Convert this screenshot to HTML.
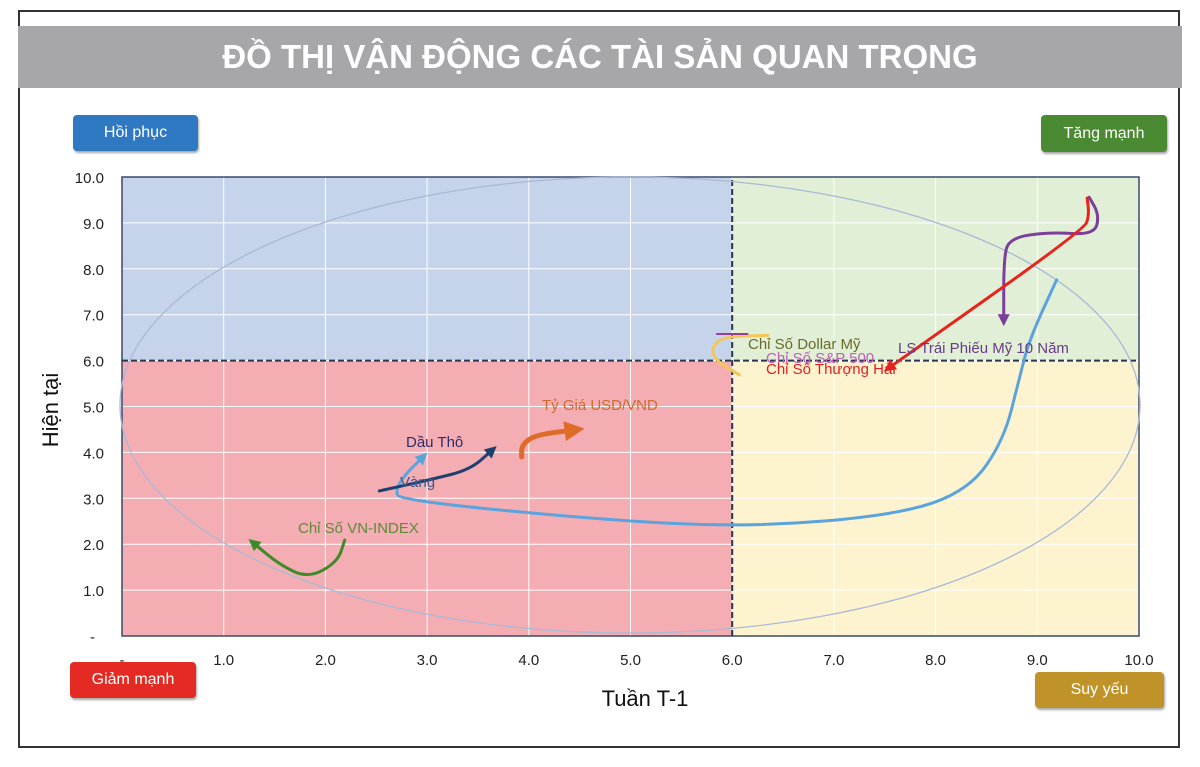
<!DOCTYPE html>
<html><head><meta charset="utf-8"><style>
body{margin:0;background:#fff;width:1200px;height:767px;overflow:hidden;font-family:"Liberation Sans",sans-serif}
.frame{position:absolute;left:18px;top:10px;width:1162px;height:738px;border:2px solid #333;box-sizing:border-box}
.title{position:absolute;left:18px;top:26px;width:1164px;height:62px;background:#a7a7a9;color:#fff;font-weight:bold;font-size:33px;text-align:center;line-height:62px;letter-spacing:0px}
.btn{position:absolute;color:#fff;font-size:16px;text-align:center;border-radius:4px;box-shadow:1px 2px 2px rgba(0,0,0,.35)}
</style></head><body>
<div class="frame"></div>
<div class="title">ĐỒ THỊ VẬN ĐỘNG CÁC TÀI SẢN QUAN TRỌNG</div>
<div class="btn" style="left:73px;top:115px;width:125px;height:36px;line-height:36px;background:#2f79c2">Hồi phục</div>
<div class="btn" style="left:1041px;top:115px;width:126px;height:37px;line-height:37px;background:#4a8a33">Tăng mạnh</div>
<div class="btn" style="left:70px;top:662px;width:126px;height:36px;line-height:36px;background:#e32b24">Giảm mạnh</div>
<div class="btn" style="left:1035px;top:672px;width:129px;height:36px;line-height:36px;background:#bf9328">Suy yếu</div>
<svg id="chart" width="1200" height="767" style="position:absolute;left:0;top:0"></svg>
<script>
const xTicks=[0,1,2,3,4,5,6,7,8,9,10];
const yTicks=[0,1,2,3,4,5,6,7,8,9,10];
const vnX=[2.19,2.12,1.83,1.55,1.29], vnY=[2.09,1.61,1.26,1.55,2.03];
const goldX=[9.19,8.92,8.82,8.67,8.33,7.64,6.17,4.70,2.73,2.69,2.78,2.96], goldY=[7.76,6.45,5.58,4.27,3.18,2.64,2.37,2.53,2.96,3.18,3.51,3.90];
const oilX=[2.53,3.02,3.42,3.64], oilY=[3.16,3.40,3.62,4.05];
const fxX=[3.93,3.93,4.06,4.45], fxY=[3.90,4.16,4.38,4.49];
const dxyX=[6.07,5.85,5.79,5.90,6.35], dxyY=[5.69,5.98,6.25,6.52,6.55];
const spX=[5.85,6.15], spY=[6.58,6.58];
const bondX=[9.51,9.61,9.56,9.12,8.72,8.67,8.67], bondY=[9.56,9.17,8.74,8.80,8.67,8.19,6.88];
const shX=[9.49,9.51,9.46,7.54], shY=[9.54,9.17,8.85,5.84];
const X0=122,X1=1139,Y0=636,Y1=177;
const sx=v=>X0+v*(X1-X0)/10, sy=v=>Y0-v*(Y0-Y1)/10;
const svg=document.getElementById('chart');
const NS='http://www.w3.org/2000/svg';
function mk(t,a,p){const e=document.createElementNS(NS,t);for(const k in a)e.setAttribute(k,a[k]);(p||svg).appendChild(e);return e;}
const defs=mk('defs',{});
const cols={vn:'#3f8a2c',gold:'#5ba3dd',oil:'#1f3f6f',fx:'#dd6c28',dxy:'#f2c75a',sp:'#9a3d9a',bond:'#7a3f9a',sh:'#e8231c'};
for(const k in cols){const m=mk('marker',{id:'ar-'+k,viewBox:'0 0 10 10',refX:5,refY:5,markerWidth:4,markerHeight:4,orient:'auto'},defs);mk('path',{d:'M0,0L10,5L0,10z',fill:cols[k]},m);}
let q;
q=mk('rect',{x:sx(0),y:sy(10),width:sx(6)-sx(0),height:sy(6)-sy(10),fill:'#c5d4ea'});
q=mk('rect',{x:sx(6),y:sy(10),width:sx(10)-sx(6),height:sy(6)-sy(10),fill:'#e0efd6'});
q=mk('rect',{x:sx(0),y:sy(6),width:sx(6)-sx(0),height:sy(0)-sy(6),fill:'#f4adb3'});
q=mk('rect',{x:sx(6),y:sy(6),width:sx(10)-sx(6),height:sy(0)-sy(6),fill:'#fdf4cf'});
xTicks.forEach(v=>{const l=mk('line',{x1:sx(v),x2:sx(v),y1:sy(0),y2:sy(10),stroke:'#fff','stroke-width':1});});
yTicks.forEach(v=>{const l=mk('line',{x1:sx(0),x2:sx(10),y1:sy(v),y2:sy(v),stroke:'#fff','stroke-width':1});});
let b=mk('rect',{x:sx(0),y:sy(10),width:sx(10)-sx(0),height:sy(0)-sy(10),fill:'none',stroke:'#3a4a6a','stroke-width':1.5});
let dl=mk('line',{x1:sx(6),x2:sx(6),y1:sy(0),y2:sy(10),stroke:'#2a3550','stroke-width':2,'stroke-dasharray':'6,3'});
dl=mk('line',{x1:sx(0),x2:sx(10),y1:sy(6),y2:sy(6),stroke:'#2a3550','stroke-width':2,'stroke-dasharray':'6,3'});
let el=mk('ellipse',{cx:630,cy:405,rx:510,ry:228,fill:'none',stroke:'#a9b9d6','stroke-width':1.3});
xTicks.forEach(v=>{const t=mk('text',{x:sx(v),y:665,'text-anchor':'middle','font-size':15,fill:'#222'});t.textContent=v===0?'-':v.toFixed(1);});
yTicks.forEach(v=>{const t=mk('text',{x:v===0?95:104,y:sy(v)+6,'text-anchor':'end','font-size':15,fill:'#222'});t.textContent=v===0?'-':v.toFixed(1);});
let at=mk('text',{x:645,y:706,'text-anchor':'middle','font-size':22,fill:'#111'});at.textContent='Tuần T-1';
at=mk('text',{x:58,y:410,'text-anchor':'middle','font-size':22,fill:'#111',transform:'rotate(-90 58 410)'});at.textContent='Hiện tại';
function path(xs,ys){let d='M'+sx(xs[0])+','+sy(ys[0]);for(let i=1;i<xs.length;i++){const px=sx(xs[i-1]),py=sy(ys[i-1]),cx=sx(xs[i]),cy=sy(ys[i]);d+=' Q'+px+','+py+' '+((px+cx)/2)+','+((py+cy)/2);}d+=' L'+sx(xs[xs.length-1])+','+sy(ys[ys.length-1]);return d;}
function series(xs,ys,k,w,name,arrow){const a={d:path(xs,ys),fill:'none',stroke:cols[k],'stroke-width':w,'stroke-linecap':'round'};if(arrow)a['marker-end']='url(#ar-'+k+')';const p=mk('path',a);}
series(vnX,vnY,'vn',3,'vnindex-series',true);
series(goldX,goldY,'gold',3,'gold-series',true);
series(oilX,oilY,'oil',3,'oil-series',true);
series(fxX,fxY,'fx',5,'usdvnd-series',true);
series(dxyX,dxyY,'dxy',3,'dollar-index-series',false);
series(spX,spY,'sp',2,'sp500-series',false);
series(bondX,bondY,'bond',3,'us10y-series',true);
series(shX,shY,'sh',3,'shanghai-series',true);
function lab(x,y,t,c,n){const e=mk('text',{x:x,y:y,'font-size':15,fill:c});e.textContent=t;}
lab(298,533,'Chỉ Số VN-INDEX','#5d8a3a','vnindex-label');
lab(400,487,'Vàng','#3c5a8a','gold-label');
lab(406,447,'Dầu Thô','#2d2d6a','oil-label');
lab(542,410,'Tỷ Giá USD/VND','#d06a30','usdvnd-label');
lab(748,349,'Chỉ Số Dollar Mỹ','#6b6a2a','dollar-index-label');
lab(766,363,'Chỉ Số S&P 500','#c060b8','sp500-label');
lab(766,374,'Chỉ Số Thượng Hải','#e02020','shanghai-label');
lab(898,353,'LS Trái Phiếu Mỹ 10 Năm','#6a3a8a','us10y-label');
</script>
</body></html>
